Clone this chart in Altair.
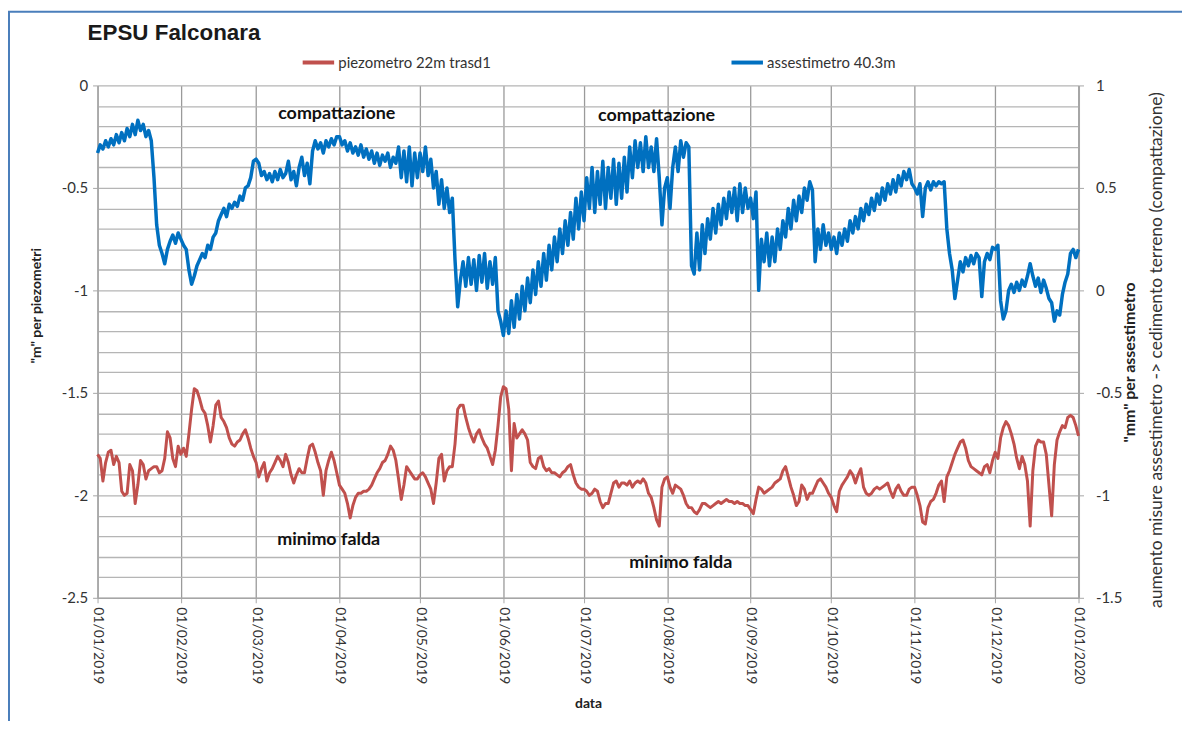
import altair as alt
import pandas as pd

TITLE = "EPSU Falconara"
SERIES = ["piezometro 22m trasd1", "assestimetro 40.3m"]
COLORS = ["#C0504D", "#0070C0"]
FONT = "Lato"

# piezometro (left axis, m), daily readings 01/01/2019 .. 01/01/2020
piezo_jan = [-1.80, -1.82, -1.93, -1.84, -1.79, -1.78, -1.85, -1.81, -1.84, -1.98, -2.00, -1.99, -1.85, -1.88, -2.04, -1.95,
             -1.83, -1.85, -1.92, -1.88, -1.87, -1.86, -1.86, -1.89, -1.88, -1.82, -1.69, -1.72, -1.82, -1.86, -1.76]
piezo_feb = [-1.80, -1.77, -1.81, -1.70, -1.58, -1.48, -1.49, -1.53, -1.58, -1.60, -1.66, -1.74, -1.66, -1.56, -1.54, -1.62,
             -1.64, -1.67, -1.72, -1.75, -1.76, -1.74, -1.73, -1.70, -1.68, -1.72, -1.77, -1.81]
piezo_mar = [-1.84, -1.91, -1.87, -1.84, -1.93, -1.89, -1.87, -1.84, -1.81, -1.83, -1.86, -1.80, -1.84, -1.90, -1.94, -1.90,
             -1.87, -1.89, -1.89, -1.82, -1.76, -1.75, -1.79, -1.84, -1.88, -2.00, -1.88, -1.83, -1.79, -1.83, -1.89]
piezo_apr = [-1.95, -1.97, -1.99, -2.04, -2.11, -2.05, -2.01, -1.99, -1.99, -1.98, -1.98, -1.97, -1.95, -1.92, -1.89, -1.87,
             -1.84, -1.83, -1.80, -1.76, -1.78, -1.83, -1.92, -2.02, -1.95, -1.86, -1.88, -1.90, -1.92, -1.92]
piezo_may = [-1.90, -1.89, -1.91, -1.94, -1.97, -2.04, -1.94, -1.82, -1.80, -1.93, -1.88, -1.86, -1.86, -1.75, -1.58, -1.56,
             -1.56, -1.62, -1.67, -1.71, -1.74, -1.70, -1.68, -1.72, -1.75, -1.77, -1.81, -1.85, -1.78, -1.66, -1.52]
piezo_jun = [-1.47, -1.48, -1.58, -1.88, -1.65, -1.72, -1.70, -1.68, -1.70, -1.73, -1.84, -1.86, -1.87, -1.82, -1.81, -1.86,
             -1.88, -1.87, -1.89, -1.89, -1.90, -1.91, -1.89, -1.88, -1.86, -1.85, -1.90, -1.94, -1.96, -1.97]
piezo_jul = [-1.97, -1.98, -2.00, -1.99, -1.97, -1.98, -2.03, -2.06, -2.04, -2.04, -1.99, -1.94, -1.93, -1.96, -1.94, -1.94,
             -1.95, -1.93, -1.96, -1.94, -1.93, -1.94, -1.92, -1.94, -1.99, -2.01, -2.06, -2.12, -2.15, -1.96, -1.92]
piezo_aug = [-1.91, -1.96, -1.99, -1.95, -1.96, -1.97, -2.00, -2.04, -2.06, -2.06, -2.08, -2.09, -2.07, -2.04, -2.04, -2.05,
             -2.06, -2.05, -2.04, -2.03, -2.04, -2.03, -2.02, -2.03, -2.03, -2.04, -2.03, -2.04, -2.04, -2.05, -2.05]
piezo_sep = [-2.07, -2.09, -2.02, -1.96, -1.97, -1.99, -1.98, -1.97, -1.96, -1.94, -1.93, -1.92, -1.88, -1.86, -1.91, -1.96,
             -2.00, -2.05, -2.03, -1.95, -1.97, -2.02, -1.99, -1.99, -1.96, -1.93, -1.92, -1.94, -1.96, -1.99]
piezo_oct = [-2.01, -2.05, -2.08, -1.98, -1.95, -1.93, -1.91, -1.88, -1.90, -1.94, -1.90, -1.87, -1.96, -1.99, -2.00, -1.99,
             -1.97, -1.96, -1.97, -1.96, -1.95, -1.94, -1.98, -2.01, -1.97, -1.95, -1.98, -2.00, -2.00, -1.97, -1.96]
piezo_nov = [-1.96, -2.00, -2.05, -2.13, -2.14, -2.06, -2.03, -2.02, -1.99, -1.95, -1.93, -2.03, -1.91, -1.88, -1.84, -1.80,
             -1.77, -1.74, -1.73, -1.77, -1.83, -1.86, -1.87, -1.88, -1.89, -1.90, -1.86, -1.85, -1.89, -1.83]
piezo_dec = [-1.79, -1.82, -1.72, -1.67, -1.64, -1.66, -1.70, -1.75, -1.82, -1.87, -1.81, -1.85, -1.93, -2.15, -1.88, -1.76,
             -1.73, -1.74, -1.74, -1.80, -1.95, -2.10, -1.85, -1.73, -1.69, -1.66, -1.67, -1.62, -1.61, -1.62, -1.66, -1.71]

# assestimetro (right axis, mm), daily readings
assest_jan = [0.67, 0.71, 0.69, 0.73, 0.70, 0.74, 0.71, 0.76, 0.72, 0.77, 0.73, 0.79, 0.75, 0.81, 0.76, 0.83,
              0.78, 0.81, 0.75, 0.78, 0.73, 0.55, 0.32, 0.22, 0.18, 0.13, 0.20, 0.24, 0.27, 0.23, 0.28]
assest_feb = [0.25, 0.22, 0.20, 0.10, 0.03, 0.07, 0.12, 0.15, 0.18, 0.16, 0.22, 0.20, 0.26, 0.28, 0.34, 0.37,
              0.40, 0.36, 0.42, 0.40, 0.43, 0.41, 0.46, 0.44, 0.50, 0.51, 0.55, 0.63]
assest_mar = [0.64, 0.62, 0.56, 0.58, 0.54, 0.57, 0.53, 0.58, 0.54, 0.59, 0.55, 0.57, 0.63, 0.54, 0.58, 0.51,
              0.60, 0.65, 0.56, 0.62, 0.52, 0.68, 0.73, 0.69, 0.72, 0.67, 0.73, 0.70, 0.74, 0.71, 0.75]
assest_apr = [0.75, 0.71, 0.73, 0.68, 0.72, 0.67, 0.70, 0.66, 0.71, 0.65, 0.69, 0.64, 0.68, 0.62, 0.67, 0.61,
              0.66, 0.63, 0.67, 0.60, 0.65, 0.62, 0.70, 0.55, 0.68, 0.53, 0.70, 0.51, 0.67, 0.55]
assest_may = [0.67, 0.58, 0.70, 0.56, 0.64, 0.50, 0.58, 0.42, 0.54, 0.40, 0.50, 0.38, 0.45, 0.15, -0.08, 0.05,
              0.14, 0.02, 0.16, 0.03, 0.15, 0.00, 0.17, 0.04, 0.18, 0.01, 0.14, 0.03, 0.16, -0.10, -0.15]
assest_jun = [-0.22, -0.10, -0.21, -0.05, -0.18, -0.02, -0.14, 0.02, -0.10, 0.06, -0.06, 0.10, -0.02, 0.14, 0.02, 0.18,
              0.05, 0.22, 0.10, 0.26, 0.14, 0.30, 0.18, 0.34, 0.22, 0.38, 0.25, 0.45, 0.30, 0.48]
assest_jul = [0.34, 0.55, 0.40, 0.60, 0.38, 0.58, 0.42, 0.63, 0.40, 0.60, 0.45, 0.64, 0.42, 0.62, 0.45, 0.65,
              0.48, 0.70, 0.55, 0.73, 0.60, 0.72, 0.58, 0.75, 0.60, 0.70, 0.58, 0.74, 0.55, 0.32, 0.50]
assest_aug = [0.55, 0.40, 0.60, 0.70, 0.58, 0.73, 0.65, 0.72, 0.70, 0.12, 0.08, 0.28, 0.10, 0.32, 0.18, 0.35,
              0.25, 0.40, 0.28, 0.42, 0.32, 0.45, 0.35, 0.48, 0.38, 0.50, 0.34, 0.52, 0.38, 0.50, 0.40]
assest_sep = [0.45, 0.35, 0.48, 0.00, 0.25, 0.14, 0.28, 0.12, 0.26, 0.14, 0.30, 0.20, 0.34, 0.26, 0.40, 0.30,
              0.44, 0.34, 0.46, 0.38, 0.50, 0.44, 0.53, 0.49, 0.14, 0.30, 0.20, 0.32, 0.22, 0.28]
assest_oct = [0.20, 0.26, 0.18, 0.28, 0.22, 0.30, 0.24, 0.34, 0.28, 0.36, 0.30, 0.40, 0.34, 0.42, 0.37, 0.45,
              0.39, 0.47, 0.42, 0.50, 0.44, 0.52, 0.47, 0.54, 0.48, 0.56, 0.51, 0.58, 0.54, 0.59, 0.52]
assest_nov = [0.50, 0.47, 0.52, 0.36, 0.50, 0.53, 0.49, 0.53, 0.51, 0.53, 0.52, 0.53, 0.30, 0.18, 0.10, -0.04,
              0.05, 0.14, 0.09, 0.16, 0.12, 0.17, 0.13, 0.18, 0.16, -0.03, 0.14, 0.18, 0.15, 0.21]
assest_dec = [0.20, 0.22, -0.05, -0.14, -0.10, 0.00, 0.03, -0.01, 0.04, 0.00, 0.05, 0.02, 0.07, 0.13, 0.07, 0.02,
              0.06, -0.01, 0.05, 0.01, -0.04, -0.06, -0.15, -0.10, -0.12, -0.02, 0.04, 0.08, 0.18, 0.20, 0.16, 0.20]

piezo = (piezo_jan + piezo_feb + piezo_mar + piezo_apr + piezo_may + piezo_jun +
         piezo_jul + piezo_aug + piezo_sep + piezo_oct + piezo_nov + piezo_dec)
assest = (assest_jan + assest_feb + assest_mar + assest_apr + assest_may + assest_jun +
          assest_jul + assest_aug + assest_sep + assest_oct + assest_nov + assest_dec)
dates = [d.strftime("%Y-%m-%d") for d in pd.date_range("2019-01-01", "2020-01-01", freq="D")]

month_ticks = [(2019, 1), (2019, 2), (2019, 3), (2019, 4), (2019, 5), (2019, 6), (2019, 7),
               (2019, 8), (2019, 9), (2019, 10), (2019, 11), (2019, 12), (2020, 1)]
left_ticks = [-2.5, -2.4, -2.3, -2.2, -2.1, -2.0, -1.9, -1.8, -1.7, -1.6, -1.5, -1.4, -1.3,
              -1.2, -1.1, -1.0, -0.9, -0.8, -0.7, -0.6, -0.5, -0.4, -0.3, -0.2, -0.1, 0.0]
right_ticks = [-1.5, -1.0, -0.5, 0.0, 0.5, 1.0]

note_dates = ["2019-03-31", "2019-07-28", "2019-03-28", "2019-08-06"]
note_values = [-0.14, -0.15, -2.22, -2.33]
note_texts = ["compattazione", "compattazione", "minimo falda", "minimo falda"]

left_title = '"m" per piezometri'
right_title = '"mm" per assestimetro'
right_note = "aumento misure assestimetro -> cedimento terreno (compattazione)"

df_p = pd.DataFrame({"data": dates, "valore": piezo, "serie": SERIES[0]})
df_a = pd.DataFrame({"data": dates, "valore": assest, "serie": SERIES[1]})
df_n = pd.DataFrame({"data": note_dates, "valore": note_values, "testo": note_texts})

W, H = 986, 515
GRID = "#a6a6a6"
TXT = "#333333"

x_enc = alt.X(
    "data:T",
    scale=alt.Scale(type="utc", domain=[alt.DateTime(year=2019, month=1, date=1, utc=True),
                                        alt.DateTime(year=2020, month=1, date=1, utc=True)]),
    axis=alt.Axis(values=[alt.DateTime(year=y, month=m, date=1, utc=True) for y, m in month_ticks],
                  format="%d/%m/%Y", labelAngle=90, labelAlign="left", labelBaseline="middle",
                  labelFont=FONT, labelFontSize=14, labelColor=TXT, labelPadding=4,
                  labelFlush=False, labelOverlap=False,
                  tickSize=5, tickColor=GRID, domainColor=GRID, domainWidth=1.5,
                  grid=True, gridColor="#9a9a9a", gridWidth=1.3,
                  title="data", titleFont=FONT, titleFontSize=14, titleFontWeight="bold", titleColor="#222",
                  titleX=W / 2, titleY=106, titleAlign="center", titleBaseline="middle"),
)

major_test = "round(datum.value*10) % 5 != 0"
y_left = alt.Y(
    "valore:Q",
    scale=alt.Scale(domain=[-2.5, 0], nice=False, zero=False),
    axis=alt.Axis(orient="left", values=left_ticks,
                  labelExpr="(round(datum.value*10) % 5 == 0) ? toString(datum.value) : ''",
                  labelFont=FONT, labelFontSize=15, labelColor=TXT, labelPadding=5,
                  labelFlush=False, labelOverlap=False,
                  tickSize=5, tickColor={"condition": {"test": major_test, "value": "transparent"}, "value": GRID},
                  domainColor=GRID, domainWidth=1.5,
                  grid=True, gridColor="#b5b5b5", gridWidth=1.3,
                  title=left_title, titleFont=FONT, titleFontSize=14, titleFontWeight="bold", titleColor="#222",
                  titleAngle=270, titleX=-61, titleY=221, titleAlign="center", titleBaseline="middle"),
)
y_right = alt.Y(
    "valore:Q",
    scale=alt.Scale(domain=[-1.5, 1], nice=False, zero=False),
    axis=alt.Axis(orient="right", values=right_ticks, labelExpr="toString(datum.value)",
                  labelFont=FONT, labelFontSize=15, labelColor=TXT, labelPadding=12,
                  labelFlush=False, labelOverlap=False,
                  tickSize=5, tickColor=GRID, domainColor=GRID, domainWidth=2,
                  grid=False,
                  title=right_title, titleFont=FONT, titleFontSize=16, titleFontWeight="bold", titleColor="#222",
                  titleAngle=270, titleX=51, titleY=278, titleAlign="center", titleBaseline="middle"),
)

color_enc = alt.Color(
    "serie:N",
    scale=alt.Scale(domain=SERIES, range=COLORS),
    legend=alt.Legend(orient="none", legendX=204, legendY=-41, direction="horizontal", title=None,
                      labelFont=FONT, labelFontSize=15, labelColor=TXT, labelOffset=2,
                      symbolType="stroke", symbolStrokeWidth=4, symbolSize=1000, columnPadding=233),
)

red = alt.Chart(df_p).mark_line(strokeWidth=3, strokeJoin="round").encode(x=x_enc, y=y_left, color=color_enc)
notes = alt.Chart(df_n).mark_text(font=FONT, fontSize=18, fontWeight="bold", color="#111111").encode(
    x=x_enc, y=y_left, text="testo:N")
blue = alt.Chart(df_a).mark_line(strokeWidth=3.5, strokeJoin="round").encode(x=x_enc, y=y_right, color=color_enc)

side = alt.Chart(pd.DataFrame({"t": [right_note]})).mark_text(
    angle=270, font=FONT, fontSize=17.5, color=TXT, align="center", baseline="middle").encode(
    x=alt.value(W + 79), y=alt.value(266), text="t:N")

one = pd.DataFrame({"k": [0]})
frame_left = alt.Chart(one).mark_rule(color="#4a7ebb", strokeWidth=2).encode(
    x=alt.value(-89), y=alt.value(-74), y2=alt.value(H + 125))
frame_top = alt.Chart(one).mark_rule(color="#4a7ebb", strokeWidth=2).encode(
    x=alt.value(-90), x2=alt.value(W + 110), y=alt.value(-74))

chart = alt.layer(
    alt.layer(red, notes), blue, side, frame_left, frame_top
).resolve_scale(y="independent").properties(
    width=W, height=H,
    title=alt.TitleParams(TITLE, anchor="start", frame="group", font="Liberation Sans", fontSize=22.5,
                          fontWeight="bold", color="#1a1a1a", offset=0, dy=52, dx=-10,
                          baseline="alphabetic"),
    autosize=alt.AutoSizeParams(type="none"),
    padding={"left": 90, "top": 76, "right": 104, "bottom": 122},
).configure_view(stroke="transparent")

chart.save("out.html", embed_options={"renderer": "svg", "actions": False})
